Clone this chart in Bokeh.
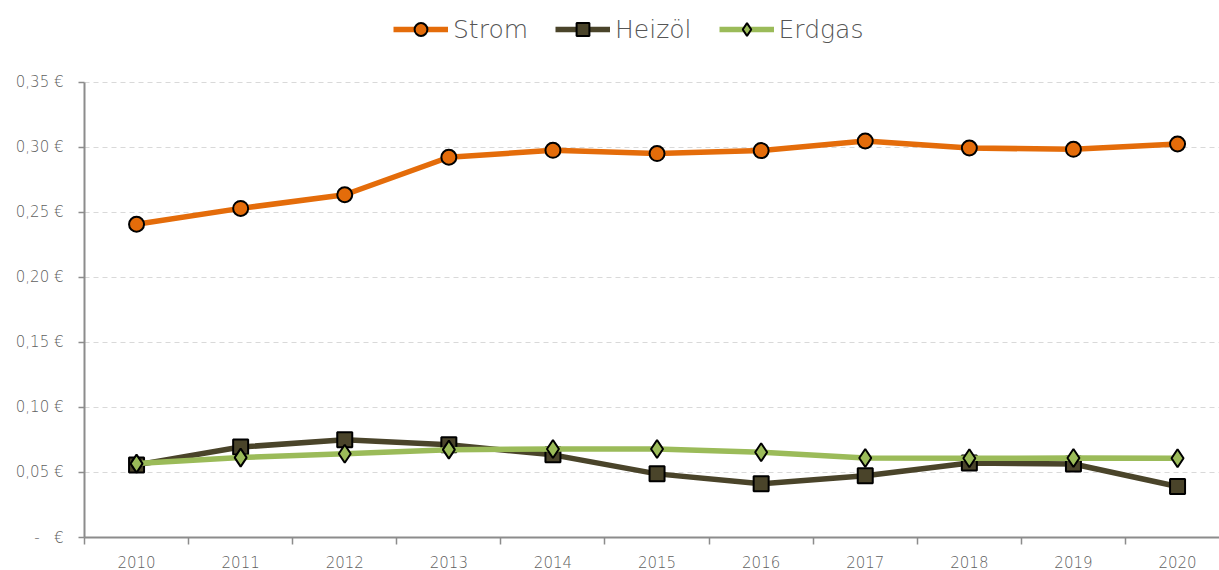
from bokeh.plotting import figure
from bokeh.models import FixedTicker, Legend, LegendItem, Range1d
from bokeh.embed import file_html
from bokeh.resources import INLINE

years = ["2010", "2011", "2012", "2013", "2014", "2015", "2016", "2017", "2018", "2019", "2020"]
strom = [0.2407, 0.2529, 0.2634, 0.2922, 0.2975, 0.2950, 0.2973, 0.3047, 0.2993, 0.2983, 0.3024]
heizoel = [0.0558, 0.0695, 0.0751, 0.0713, 0.0635, 0.0489, 0.0413, 0.0474, 0.0573, 0.0565, 0.0392]
erdgas = [0.0568, 0.0614, 0.0644, 0.0675, 0.0680, 0.0680, 0.0655, 0.0611, 0.0609, 0.0611, 0.0609]
y_ticks = [0.0, 0.05, 0.10, 0.15, 0.20, 0.25, 0.30, 0.35]
y_labels = ["-\u00a0\u00a0\u00a0€", "0,05 €", "0,10 €", "0,15 €", "0,20 €", "0,25 €", "0,30 €", "0,35 €"]

FONT = "DejaVu Sans Light"
GRAY = "#5f5f5f"
AXIS = "#8c8c8c"

xs = [i + 0.5 for i in range(len(years))]
bounds = list(range(len(years) + 1))

p = figure(width=1219, height=570, output_backend="svg", toolbar_location=None,
           x_range=Range1d(0, 10.903), y_range=Range1d(0, 0.41266),
           min_border_left=84, min_border_right=0, min_border_top=0, min_border_bottom=0)
p.outline_line_color = None
p.background_fill_color = "white"

# axes
p.xaxis.ticker = FixedTicker(ticks=xs, minor_ticks=bounds)
p.xaxis.major_label_overrides = {x: y for x, y in zip(xs, years)}
p.xaxis.major_tick_out = 0
p.xaxis.major_tick_in = 0
p.xaxis.minor_tick_out = 7
p.xaxis.minor_tick_in = 0
p.xaxis.minor_tick_line_color = AXIS
p.xaxis.minor_tick_line_width = 1.5
p.xaxis.axis_line_color = AXIS
p.xaxis.axis_line_width = 2
p.xaxis.major_label_standoff = 11
p.xaxis.major_label_text_font = FONT
p.xaxis.major_label_text_font_size = "15px"
p.xaxis.major_label_text_color = GRAY

p.yaxis.ticker = FixedTicker(ticks=y_ticks, minor_ticks=[])
p.yaxis.bounds = (0, 0.35)
p.yaxis.major_label_overrides = {t: l for t, l in zip(y_ticks, y_labels)}
p.yaxis.major_tick_out = 6
p.yaxis.major_tick_in = 0
p.yaxis.minor_tick_out = 0
p.yaxis.major_tick_line_color = AXIS
p.yaxis.major_tick_line_width = 1.5
p.yaxis.axis_line_color = AXIS
p.yaxis.axis_line_width = 2
p.yaxis.major_label_standoff = 15
p.yaxis.major_label_text_font = FONT
p.yaxis.major_label_text_font_size = "15px"
p.yaxis.major_label_text_color = GRAY

p.xgrid.grid_line_color = None
p.ygrid.ticker = FixedTicker(ticks=y_ticks[1:])
p.ygrid.grid_line_color = "#d9d9d9"
p.ygrid.grid_line_dash = "5 4"
p.ygrid.grid_line_width = 1

series = [
    ("Strom", strom, "#e46c0a", "circle", 15),
    ("Heizöl", heizoel, "#4a442a", "square", 15),
    ("Erdgas", erdgas, "#9bbb59", "diamond", 18),
]
items = []
for name, vals, color, marker, size in series:
    ln = p.line(xs, vals, line_color=color, line_width=5.5)
    sc = p.scatter(xs, vals, marker=marker, size=size, fill_color=color,
                   line_color="black", line_width=2)
    items.append(LegendItem(label=name, renderers=[ln, sc]))

legend = Legend(items=items, orientation="horizontal", location=(309, 492),
                glyph_width=55, glyph_height=32, label_height=32, label_standoff=5,
                spacing=27, padding=0, margin=0,
                label_text_font=FONT, label_text_font_size="25px",
                label_text_color="#555555",
                border_line_alpha=0, background_fill_alpha=0)
p.add_layout(legend)

open("out.html", "w").write(file_html(p, INLINE))
